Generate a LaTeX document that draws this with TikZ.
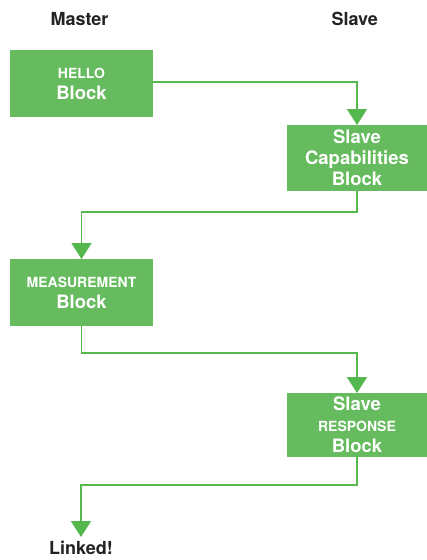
\documentclass[tikz,border=0pt]{standalone}
\usepackage{fontspec}
\setmainfont{TeX Gyre Heros}
\usetikzlibrary{arrows.meta}
\definecolor{blockgreen}{HTML}{66BB5E}
\definecolor{linegreen}{HTML}{55B84E}
\definecolor{labeldark}{HTML}{222222}
\begin{document}
\begin{tikzpicture}[x=1pt,y=-1pt,
  blockbox/.style={fill=blockgreen, draw=none, text=white, inner sep=0pt, outer sep=0pt,
    align=center, font=\bfseries\fontsize{18.5}{21}\selectfont},
  toplabel/.style={text=labeldark, inner sep=0pt, font=\bfseries\fontsize{18}{21}\selectfont},
  conn/.style={draw=linegreen, line width=1.8pt, -{Triangle[width=20pt,length=16pt,fill=linegreen]}},
  small/.style={}]
\useasboundingbox (0,0) rectangle (427,560);
\fill[white] (0,0) rectangle (427,560);
\newcommand{\smalltxt}[1]{{\fontsize{14}{21}\selectfont #1}}
\node[toplabel, anchor=base] (master) at (79.5,25.7) {Master};
\node[toplabel, anchor=base] (slave) at (354.7,25.7) {Slave};
\node[blockbox, minimum width=143pt, minimum height=67pt] (hello) at (81.5,83.5) {\smalltxt{HELLO}\\Block};
\node[blockbox, minimum width=140pt, minimum height=66pt] (cap) at (357,158) {Slave\\Capabilities\\Block};
\node[blockbox, minimum width=143pt, minimum height=67pt] (meas) at (81.5,292.5) {\smalltxt{MEASUREMENT}\\Block};
\node[blockbox, minimum width=140pt, minimum height=64pt] (resp) at (357,425) {Slave\\\smalltxt{RESPONSE}\\Block};
\node[toplabel, anchor=north, inner ysep=3.5pt] (linked) at (81,537) {Linked!};
\draw[conn] (hello.east |- 0,82) -| (cap.north);
\draw[conn] (cap.south) -- (cap.south |- 0,212) -| (meas.north);
\draw[conn] (meas.south) -- (meas.south |- 0,353) -| (resp.north);
\draw[conn] (resp.south) -- (resp.south |- 0,485) -| (linked.north);
\end{tikzpicture}
\end{document}
